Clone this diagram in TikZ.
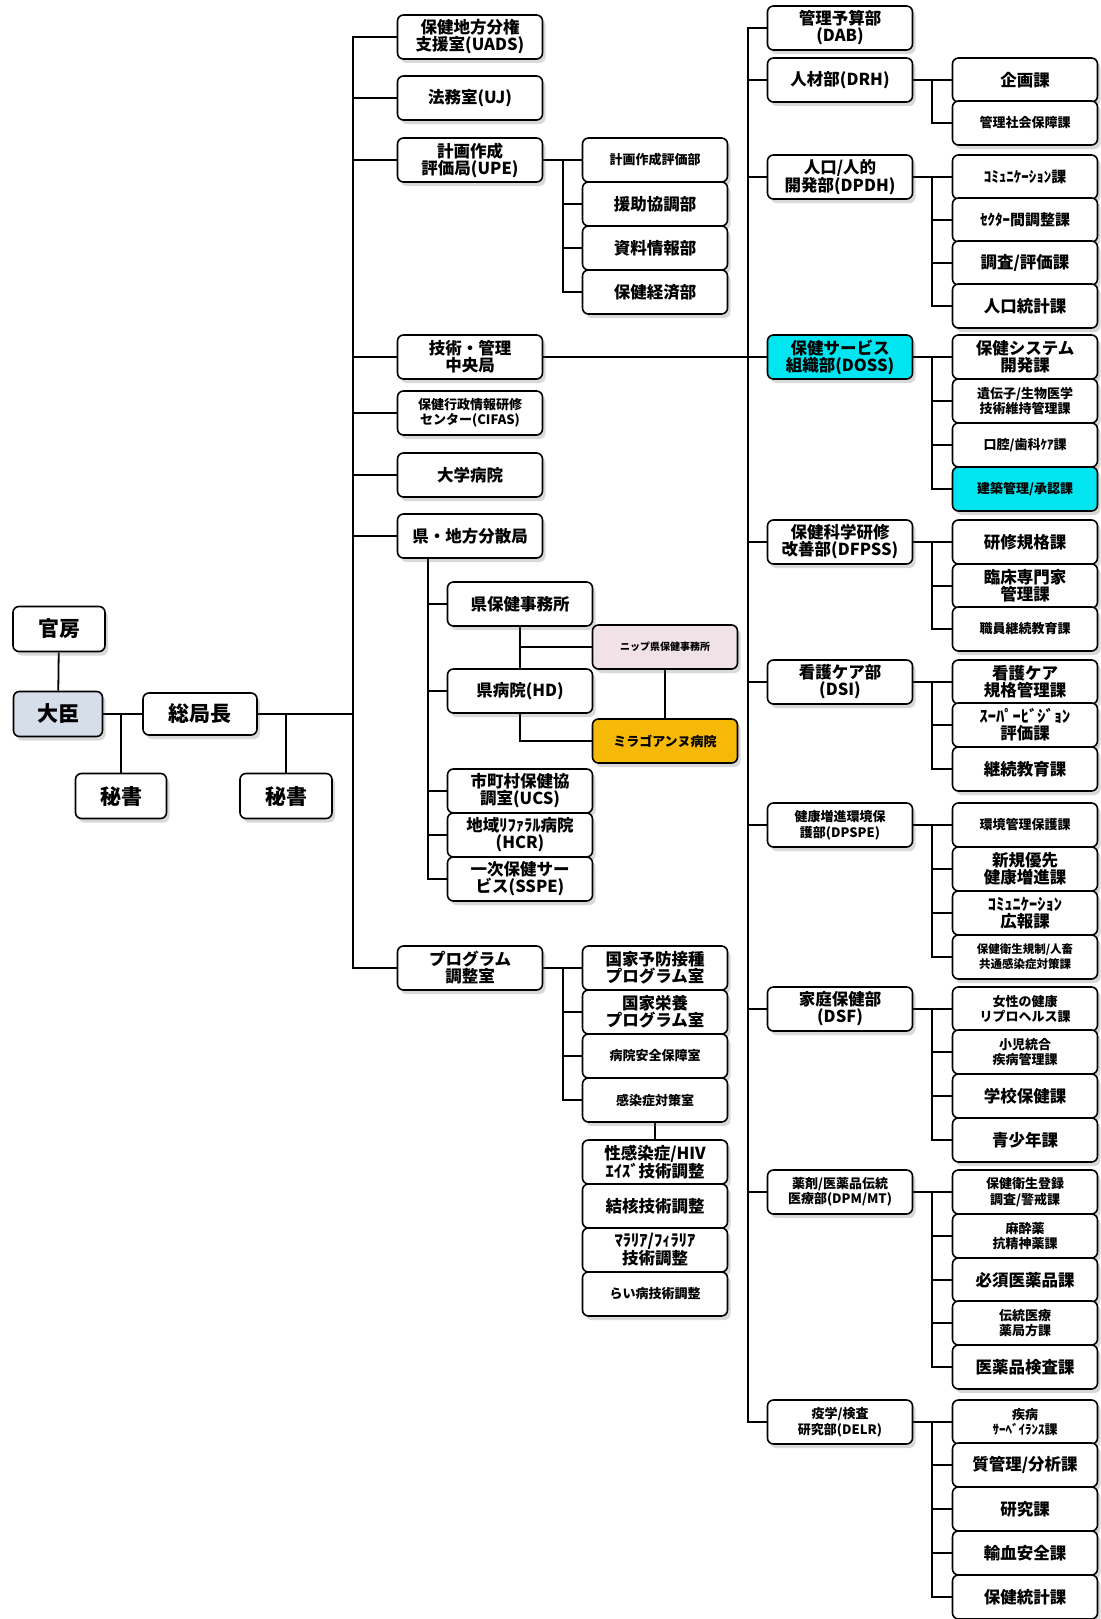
\documentclass[tikz,border=0pt]{standalone}
\usepackage{fontspec}
\setmainfont{Noto Sans CJK JP}
\usetikzlibrary{positioning,shadows,backgrounds}
\definecolor{ministerblue}{RGB}{214,222,234}
\definecolor{dosscyan}{RGB}{0,229,240}
\definecolor{miragold}{RGB}{246,185,8}
\definecolor{nipppink}{RGB}{240,226,230}

\begin{document}
\begin{tikzpicture}[x=1pt, y=-1pt,
    box/.style={rectangle, draw=black, line width=1.6pt, fill=white,
        rounded corners=6pt, minimum width=145pt, minimum height=44pt,
        inner sep=2pt, align=center,
        font=\bfseries\fontsize{16.5}{17}\selectfont,
        drop shadow={shadow xshift=3pt, shadow yshift=-4pt, opacity=.25, fill=black!60}},
    topbox/.style={box, minimum height=45pt, font=\bfseries\fontsize{21}{22}\selectfont},
    small/.style={font=\bfseries\fontsize{13}{15.5}\selectfont},
    tiny/.style={font=\bfseries\fontsize{10}{14}\selectfont},
    conn/.style={line width=1.8pt}
]
    \useasboundingbox (0,0) rectangle (1100,1619);

    % Minister and director general
    \node[topbox, minimum width=92pt] (kanbo) at (59,629) {官房};
    \node[topbox, minimum width=89pt, fill=ministerblue] (daijin) at (58,714) {大臣};
    \node[topbox, minimum width=114pt, minimum height=42pt] (sokyoku) at (200,714) {総局長};
    \node[topbox, minimum width=91pt] (hisho1) at (121,796) {秘書};
    \node[topbox, minimum width=92pt] (hisho2) at (286,796) {秘書};
    \coordinate (trunk) at (353,714);

    % Offices under the director general
    \node[box] (uads) at (470,37) {保健地方分権\\支援室(UADS)};
    \node[box] (uj) at (470,98) {法務室(UJ)};
    \node[box] (upe) at (470,160) {計画作成\\評価局(UPE)};
    \node[box] (tech) at (470,357) {技術・管理\\中央局};
    \node[box, small] (cifas) at (470,413) {保健行政情報研修\\センター(CIFAS)};
    \node[box] (univ) at (470,475) {大学病院};
    \node[box] (dept) at (470,536) {県・地方分散局};
    \node[box] (prog) at (470,968) {プログラム\\調整室};

    % Planning units
    \node[box, small] (upe1) at (655,160) {計画作成評価部};
    \node[box] (upe2) at (655,204) {援助協調部};
    \node[box] (upe3) at (655,248) {資料情報部};
    \node[box] (upe4) at (655,292) {保健経済部};

    % Departmental services
    \node[box] (pho) at (520,604) {県保健事務所};
    \node[box] (hd) at (520,691) {県病院(HD)};
    \node[box, tiny, fill=nipppink] (nipp) at (665,647) {ニップ県保健事務所};
    \node[box, small, fill=miragold] (mira) at (665,741) {ミラゴアンヌ病院};
    \node[box] (ucs) at (520,791) {市町村保健協\\調室(UCS)};
    \node[box] (hcr) at (520,835) {地域ﾘﾌｧﾗﾙ病院\\(HCR)};
    \node[box] (sspe) at (520,879) {一次保健サー\\ビス(SSPE)};

    % Programme units
    \node[box] (prog1) at (655,968) {国家予防接種\\プログラム室};
    \node[box] (prog2) at (655,1012) {国家栄養\\プログラム室};
    \node[box, small] (prog3) at (655,1056) {病院安全保障室};
    \node[box, small] (prog4) at (655,1100) {感染症対策室};
    \node[box] (stdhiv) at (655,1162) {性感染症/HIV\\ｴｲｽﾞ技術調整};
    \node[box] (tb) at (655,1206) {結核技術調整};
    \node[box] (malaria) at (655,1250) {ﾏﾗﾘｱ/ﾌｨﾗﾘｱ\\技術調整};
    \node[box, small] (lepro) at (655,1294) {らい病技術調整};

    % Technical directorates
    \node[box] (dab) at (840,28) {管理予算部\\(DAB)};
    \node[box] (drh) at (840,80) {人材部(DRH)};
    \node[box] (dpdh) at (840,177) {人口/人的\\開発部(DPDH)};
    \node[box, fill=dosscyan] (doss) at (840,357) {保健サービス\\組織部(DOSS)};
    \node[box] (dfpss) at (840,542) {保健科学研修\\改善部(DFPSS)};
    \node[box] (dsi) at (840,682) {看護ケア部\\(DSI)};
    \node[box, small] (dpspe) at (840,825) {健康増進環境保\\護部(DPSPE)};
    \node[box] (dsf) at (840,1009) {家庭保健部\\(DSF)};
    \node[box, small] (dpm) at (840,1192) {薬剤/医薬品伝統\\医療部(DPM/MT)};
    \node[box, small] (delr) at (840,1422) {疫学/検査\\研究部(DELR)};
    \coordinate (rtrunk) at (748,357);

    % Sections
    \node[box] (drh1) at (1025,80) {企画課};
    \node[box, small] (drh2) at (1025,123) {管理社会保障課};
    \node[box, font=\bfseries\fontsize{15}{16}\selectfont] (dpdh1) at (1025,177) {ｺﾐｭﾆｹｰｼｮﾝ課};
    \node[box, font=\bfseries\fontsize{15}{16}\selectfont] (dpdh2) at (1025,220) {ｾｸﾀｰ間調整課};
    \node[box] (dpdh3) at (1025,263) {調査/評価課};
    \node[box] (dpdh4) at (1025,306) {人口統計課};
    \node[box] (doss1) at (1025,357) {保健システム\\開発課};
    \node[box, small] (doss2) at (1025,401) {遺伝子/生物医学\\技術維持管理課};
    \node[box, small] (doss3) at (1025,445) {口腔/歯科ｹｱ課};
    \node[box, small, fill=dosscyan] (doss4) at (1025,489) {建築管理/承認課};
    \node[box] (dfpss1) at (1025,542) {研修規格課};
    \node[box] (dfpss2) at (1025,586) {臨床専門家\\管理課};
    \node[box, small] (dfpss3) at (1025,629) {職員継続教育課};
    \node[box] (dsi1) at (1025,682) {看護ケア\\規格管理課};
    \node[box] (dsi2) at (1025,725) {ｽｰﾊﾟｰﾋﾞｼﾞｮﾝ\\評価課};
    \node[box] (dsi3) at (1025,769) {継続教育課};
    \node[box, small] (dpspe1) at (1025,825) {環境管理保護課};
    \node[box] (dpspe2) at (1025,869) {新規優先\\健康増進課};
    \node[box] (dpspe3) at (1025,913) {ｺﾐｭﾆｹｰｼｮﾝ\\広報課};
    \node[box, font=\bfseries\fontsize{11.5}{15}\selectfont] (dpspe4) at (1025,957) {保健衛生規制/人畜\\共通感染症対策課};
    \node[box, small] (dsf1) at (1025,1009) {女性の健康\\リプロヘルス課};
    \node[box, small] (dsf2) at (1025,1052) {小児統合\\疾病管理課};
    \node[box] (dsf3) at (1025,1096) {学校保健課};
    \node[box] (dsf4) at (1025,1140) {青少年課};
    \node[box, small] (dpm1) at (1025,1192) {保健衛生登録\\調査/警戒課};
    \node[box, small] (dpm2) at (1025,1236) {麻酔薬\\抗精神薬課};
    \node[box] (dpm3) at (1025,1280) {必須医薬品課};
    \node[box, small] (dpm4) at (1025,1323) {伝統医療\\薬局方課};
    \node[box] (dpm5) at (1025,1367) {医薬品検査課};
    \node[box, small] (delr1) at (1025,1422) {疾病\\ｻｰﾍﾞｲﾗﾝｽ課};
    \node[box] (delr2) at (1025,1465) {質管理/分析課};
    \node[box] (delr3) at (1025,1509) {研究課};
    \node[box] (delr4) at (1025,1553) {輸血安全課};
    \node[box] (delr5) at (1025,1597) {保健統計課};

    % Connectors
    \begin{scope}[on background layer]
        \draw[conn] (kanbo) -- (daijin);
        \draw[conn] (daijin) -- (sokyoku);
        \draw[conn] (hisho1.north) -- (hisho1.north |- daijin.east);
        \draw[conn] (hisho2.north) -- (hisho2.north |- sokyoku.east);
        \draw[conn] (sokyoku.east) -- (trunk);
        \foreach \b in {uads,uj,upe,tech,cifas,univ,dept,prog}
            \draw[conn] (trunk) |- (\b.west);

        \draw[conn] (upe) -- (upe1);
        \foreach \i in {2,3,4}
            \draw[conn] (upe.east) ++(20,0) |- (upe\i.west);
        \draw[conn] (prog) -- (prog1);
        \foreach \i in {2,3,4}
            \draw[conn] (prog.east) ++(20,0) |- (prog\i.west);
        \draw[conn] (prog4) -- (stdhiv);

        \foreach \b in {pho,hd,ucs,hcr,sspe}
            \draw[conn] ([xshift=-42pt]dept.south) |- (\b.west);
        \draw[conn] (pho) -- (hd);
        \draw[conn] (nipp.west) -- (nipp.west -| pho.south);
        \draw[conn] (nipp) -- (mira);
        \draw[conn] (hd.south) |- (mira.west);

        \draw[conn] (tech) -- (doss);
        \foreach \b in {dab,drh,dpdh,dfpss,dsi,dpspe,dsf,dpm,delr}
            \draw[conn] (rtrunk) |- (\b.west);
        \foreach \p/\n in {drh/2,dpdh/4,doss/4,dfpss/3,dsi/3,dpspe/4,dsf/4,dpm/5,delr/5} {
            \draw[conn] (\p) -- (\p1);
            \foreach \i in {2,...,\n}
                \draw[conn] (\p.east) ++(19,0) |- (\p\i.west);
        }
    \end{scope}
\end{tikzpicture}
\end{document}
